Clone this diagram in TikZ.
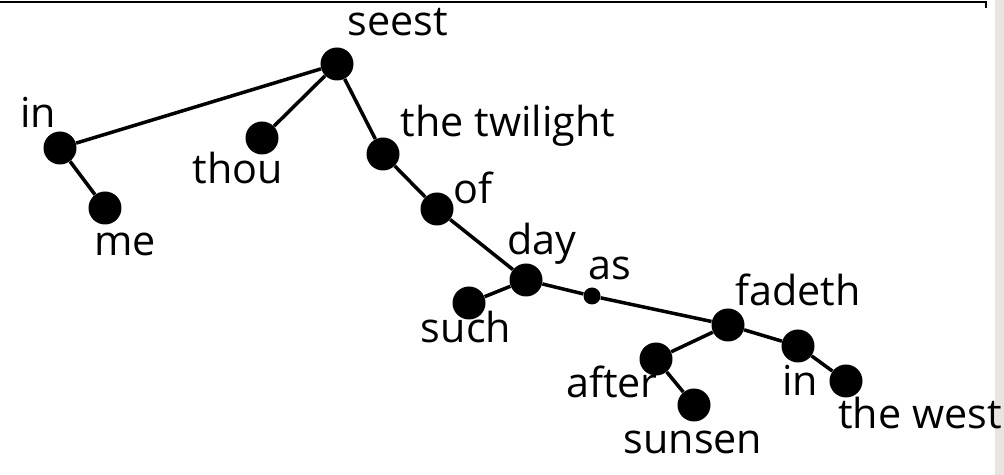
\documentclass[tikz,border=0pt]{standalone}
\usepackage{fontspec}
\setmainfont{Open Sans}
\usepackage{tikz}
\usetikzlibrary{positioning}
\definecolor{scangray}{RGB}{232,228,224}

\begin{document}
\begin{tikzpicture}[
    x=0.02cm, y=-0.02cm,
    word/.style={circle,fill=black,inner sep=0pt,minimum size=0.66cm},
    small/.style={circle,fill=black,inner sep=0pt,minimum size=0.34cm},
    lbl/.style={inner sep=0pt,font=\fontsize{23.5}{26}\selectfont},
    edge/.style={line width=2pt}
]
\useasboundingbox (0,0) rectangle (1004,475);
% scan edges
\fill[scangray] (995,0) rectangle (1004,475);
\draw[line width=1.4pt] (0,2) -- (986,2) -- (986,8);
% dots
\node[word] (seest) at (337,64) {};
\node[word] (in) at (60,148) {};
\node[word] (me) at (105,208) {};
\node[word] (thou) at (262,138) {};
\node[word] (twilight) at (383,154) {};
\node[word] (of) at (437,209) {};
\node[word] (day) at (526,280) {};
\node[word] (such) at (469,303) {};
\node[small] (as) at (592,296) {};
\node[word] (fadeth) at (728,325) {};
\node[word] (after) at (656,359) {};
\node[word] (sunsen) at (694,405) {};
\node[word] (inw) at (798,346) {};
\node[word] (west) at (846,381) {};
% branches
\draw[edge] (seest) -- (in);
\draw[edge] (in) -- (me);
\draw[edge] (seest) -- (thou);
\draw[edge] (seest) -- (twilight);
\draw[edge] (twilight) -- (of);
\draw[edge] (of) -- (day);
\draw[edge] (day) -- (such);
\draw[edge] (day) -- (as);
\draw[edge] (as) -- (fadeth);
\draw[edge] (fadeth) -- (after);
\draw[edge] (after) -- (sunsen);
\draw[edge] (fadeth) -- (inw);
\draw[edge] (inw) -- (west);
% words
\node[lbl] (tseest) at (398,22) {seest};
\node[lbl] (tin) at (38,112) {in};
\node[lbl] (tme) at (125,244) {me};
\node[lbl] (tthou) at (238,168) {thou};
\node[lbl] (ttwilight) at (508,126) {the twilight};
\node[lbl] (tof) at (473,188) {of};
\node[lbl] (tday) at (542,244) {day};
\node[lbl] (tas) at (610,268) {as};
\node[lbl] (tfadeth) at (798,290) {fadeth};
\node[lbl] (tafter) at (612,382) {after};
\node[lbl] (tsunsen) at (693,442) {sunsen};
\node[lbl] (tinw) at (800,380) {in};
\node[lbl] (twest) at (920,413) {the west};
\node[lbl] (tsuch) at (466,327) {such};
\end{tikzpicture}
\end{document}
